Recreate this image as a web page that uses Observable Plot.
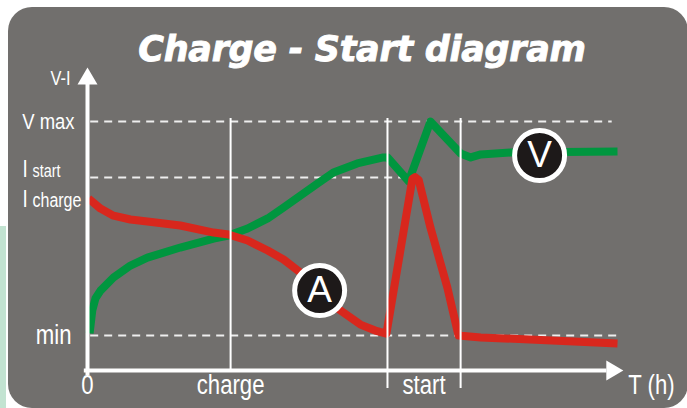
<!DOCTYPE html>
<html><head><meta charset="utf-8">
<script src="https://cdn.jsdelivr.net/npm/d3@7"></script>
<script src="https://cdn.jsdelivr.net/npm/@observablehq/plot@0.6"></script>
<style>
html,body{margin:0;padding:0;background:#fff;width:687px;height:408px;overflow:hidden;}
#strip{position:absolute;left:0;top:226px;width:6px;height:182px;background:#c2e3d1;}
#card{position:absolute;left:8px;top:7px;width:680px;height:401px;background:#716f6d;border-radius:24px;overflow:hidden;}
#title{position:absolute;left:0;top:22px;width:708px;text-align:center;color:#fff;font:italic bold 35px "DejaVu Sans",sans-serif;line-height:40px;white-space:nowrap;letter-spacing:-0.3px;-webkit-text-stroke:0.9px #fff;}
#chart{position:absolute;left:0;top:0;}
</style>
</head><body>
<div id="strip"></div>
<div id="card"><div id="chart"></div><div id="title">Charge - Start diagram</div></div>
<script>
// Time (x, arbitrary units 0..100) and level (y, min = 0, V max = 100)
const vTime  = [0.4, 0.9, 1.5, 2.45, 4.9, 8.1, 11.3, 17.5, 23.8, 26.6, 30.2, 34, 37, 40.2, 43.4, 46.4, 50.9, 55.8, 56.6, 60.6, 64.7, 70.4, 72.3, 74.2, 79.8, 100];
const vLevel = [1, 11.7, 17.3, 21, 27.1, 32.7, 36.4, 41.1, 45.3, 46.7, 50, 54.7, 59.8, 65.4, 71, 76.2, 80.4, 83.2, 83.2, 72, 100, 85, 83.2, 84.6, 85.5, 86];
const aTime  = [0.2, 2.45, 4.9, 8.1, 11.3, 17.5, 23.8, 26.6, 30.2, 34, 37, 40.2, 44, 47.2, 51.5, 54.3, 56.4, 61.3, 61.8, 62.5, 64.7, 67.9, 70, 74.2, 100];
const aLevel = [64, 59.3, 56, 54.2, 53.3, 51.4, 48.1, 47.2, 44.4, 39.7, 35.5, 29.4, 21, 12.6, 5.1, 2.3, 0.9, 73.2, 74, 72.6, 50.5, 22.4, 0, -0.9, -3.7];

const guideLevels = [100, 73.8, 0];      // V max, I start, min
const guideEnds   = [99, 61, 100];
const phaseTimes  = [27, 56.6, 70.4];    // end of charge, start begin, start end
const phaseBottoms = [-16.4, -24.8, -24.8];
const phaseTop = 101.4;

const axisLevel = -16.4;                 // time axis
const axisTop = 118;
const axisEnd = 98;
const xLabels = ["0", "charge", "start", "T (h)"];
const xLabelTimes = [0, 27, 63.5, 106.4];

const badgeNames = ["A", "V"];
const badgeTime  = [43.8, 85.3];
const badgeLevel = [21, 84.1];

const GREEN = "#00963f", RED = "#d8271d", WHITE = "#ffffff";
const NARROW = '"Liberation Sans Narrow","Arial Narrow","Liberation Sans",sans-serif';

// arrowhead symbol with its tip at the anchor point
const arrowHead = {draw(ctx, size) {
  const r = Math.sqrt(size / Math.PI);
  ctx.moveTo(0, 0); ctx.lineTo(r, 1.7 * r); ctx.lineTo(-r, 1.7 * r); ctx.closePath();
}};

const vData = vTime.map((t, i) => ({t, v: vLevel[i]}));
const aData = aTime.map((t, i) => ({t, v: aLevel[i]}));
const guides = guideLevels.map((v, i) => ({v, end: guideEnds[i]}));
const phases = phaseTimes.map((t, i) => ({t, b: phaseBottoms[i]}));
const xl = xLabels.map((s, i) => ({s, t: xLabelTimes[i]}));
const badges = badgeNames.map((s, i) => ({s, t: badgeTime[i], v: badgeLevel[i]}));

const chart = Plot.plot({
  width: 680, height: 401,
  marginTop: 0, marginRight: 0, marginBottom: 0, marginLeft: 0,
  x: {domain: [0, 100], range: [79, 609], axis: null},
  y: {domain: [0, 100], range: [328, 114], axis: null},
  style: {background: "transparent", overflow: "visible"},
  marks: [
    Plot.ruleY(guides, {y: "v", x1: 0.6, x2: "end", stroke: "#eeeeee", strokeWidth: 2, strokeDasharray: "8,6"}),
    Plot.line(vData, {x: "t", y: "v", stroke: GREEN, strokeWidth: 8, strokeLinejoin: "round", strokeLinecap: "butt"}),
    Plot.line(aData, {x: "t", y: "v", stroke: RED, strokeWidth: 8, strokeLinejoin: "round", strokeLinecap: "butt"}),
    Plot.ruleX(phases, {x: "t", y1: "b", y2: phaseTop, stroke: WHITE, strokeWidth: 2}),
    // axes
    Plot.ruleY([axisLevel], {x1: -0.6, x2: axisEnd, stroke: WHITE, strokeWidth: 4}),
    Plot.ruleX([0], {y1: -18.7, y2: axisTop, stroke: WHITE, strokeWidth: 4}),
    Plot.dot([0], {x: 0, y: 125.2, symbol: arrowHead, r: 10, fill: WHITE}),
    Plot.dot([0], {x: 101.1, y: axisLevel, symbol: arrowHead, r: 10, fill: WHITE, rotate: 90}),
    // y labels
    Plot.text(["V-I"], {x: 0, y: 120, text: d => d, textAnchor: "end", dx: -17, fill: WHITE, fontSize: 20, fontFamily: NARROW}),
    Plot.text(["V max"], {x: 0, y: 100, text: d => d, textAnchor: "end", dx: -13, fill: WHITE, fontSize: 22.5, fontFamily: NARROW}),
    Plot.text(["I"], {x: 0, y: 73.8, text: d => d, textAnchor: "start", dx: -65, dy: -1, lineAnchor: "bottom", fill: WHITE, fontSize: 23, fontFamily: NARROW}),
    Plot.text(["start"], {x: 0, y: 73.8, text: d => d, textAnchor: "start", dx: -55, dy: -1, lineAnchor: "bottom", fill: WHITE, fontSize: 17.5, fontFamily: NARROW}),
    Plot.text(["I"], {x: 0, y: 64, text: d => d, textAnchor: "start", dx: -65, dy: 8, lineAnchor: "bottom", fill: WHITE, fontSize: 23, fontFamily: NARROW}),
    Plot.text(["charge"], {x: 0, y: 64, text: d => d, textAnchor: "start", dx: -55, dy: 8, lineAnchor: "bottom", fill: WHITE, fontSize: 19.5, fontFamily: NARROW}),
    Plot.text(["min"], {x: 0, y: 0, text: d => d, textAnchor: "end", dx: -16, fill: WHITE, fontSize: 27, fontFamily: NARROW}),
    // x labels
    Plot.text(xl, {x: "t", y: axisLevel, text: "s", dy: 15, fill: WHITE, fontSize: 27, fontFamily: NARROW}),
    // badges
    Plot.dot(badges, {x: "t", y: "v", r: 25, fill: "#1d1919", stroke: WHITE, strokeWidth: 5}),
    Plot.text(badges, {x: "t", y: "v", text: "s", fill: WHITE, fontSize: 37, fontFamily: '"Liberation Sans",Arial,sans-serif'})
  ]
});
document.getElementById("chart").appendChild(chart);
// condense the label glyphs (no narrow font installed)
chart.querySelectorAll('g[font-family*="Narrow"] text').forEach(t => {
  const w = t.getComputedTextLength();
  if (w > 0) {
    t.setAttribute("textLength", (w * 0.82).toFixed(2));
    t.setAttribute("lengthAdjust", "spacingAndGlyphs");
  }
});
</script>
</body></html>
